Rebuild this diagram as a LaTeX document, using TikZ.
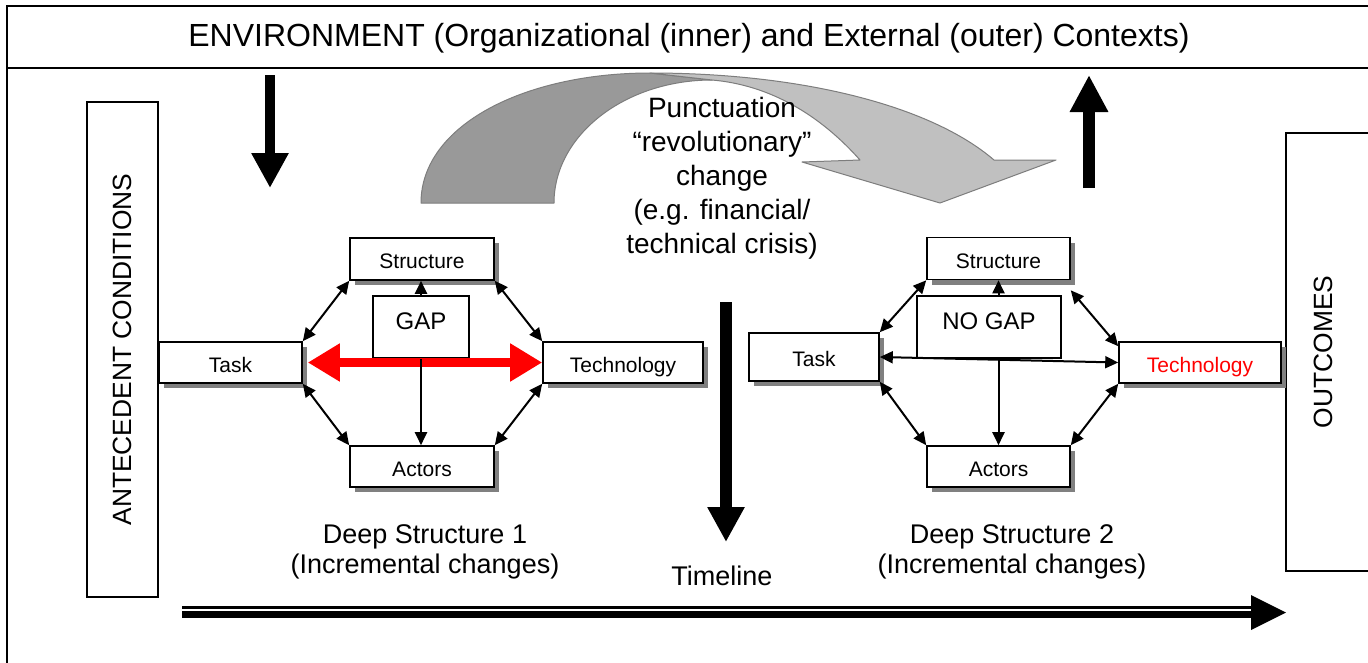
\documentclass[tikz,border=0pt]{standalone}
\usepackage{fontspec}
\setmainfont{Liberation Sans}
\usetikzlibrary{arrows.meta,shadows,calc}
\definecolor{darkband}{RGB}{153,153,153}
\definecolor{lightband}{RGB}{192,192,192}
\definecolor{bandline}{RGB}{125,125,125}
\begin{document}
\begin{tikzpicture}[x=1pt,y=-1pt,
  box/.style={draw=black, line width=1.6pt, fill=white, inner sep=0pt, font=\fontsize{21}{25}\selectfont, text height=19pt, text depth=0pt},
  sbox/.style={box, drop shadow={shadow xshift=5pt, shadow yshift=-5pt, fill=black!50, opacity=1}},
  gapbox/.style={box, font=\fontsize{24}{28}\selectfont, text height=17pt, text depth=13pt},
  bigbox/.style={draw=black, line width=1.6pt, inner sep=0pt, rotate=90, font=\fontsize{26.4}{30}\selectfont},
  arr/.style={line width=2pt, -{Triangle[length=13pt,width=12pt]}},
  darr/.style={line width=2pt, {Triangle[length=13pt,width=12pt]}-{Triangle[length=13pt,width=12pt]}},
  band/.style={draw=bandline, line width=1pt, line join=round},
  lbl/.style={align=center, font=\fontsize{27}{30}\selectfont},
]
\clip (0,0) rectangle (1368,662);
\fill[white] (0,0) rectangle (1368,662);

% outer frame
\draw[line width=2pt] (7,700) -- (7,6) -- (1400,6);
\draw[line width=2pt] (7,68) -- (1400,68);
\node[font=\fontsize{32}{37}\selectfont] (env) at (689,38) {ENVIRONMENT (Organizational (inner) and External (outer) Contexts)};

% side boxes
\node[bigbox, minimum width=495pt, minimum height=71pt] (ante) at (122.5,349.5) {ANTECEDENT CONDITIONS};
\node[bigbox, minimum width=438pt, minimum height=84pt, text depth=10pt] (outc) at (1328,352) {OUTCOMES};

% environment arrows
\coordinate (envA) at (270,75);
\coordinate (envB) at (270,188);
\draw[line width=10pt, -{Triangle[length=35pt,width=35pt]}] (envA) -- (envB);
\coordinate (outA) at (1089,188);
\coordinate (outB) at (1089,75);
\draw[line width=12pt, -{Triangle[length=37pt,width=36pt]}] (outA) -- (outB);

% curved punctuation arrow
\path[band, fill=darkband] (421,203) .. controls (421,125) and (525,73) .. (650,73)
  -- (712,80) .. controls (625,80) and (554,135) .. (554,203) -- cycle;
\path[band, fill=lightband] (650,73) .. controls (800,73) and (930,105) .. (994,160)
  -- (1056,160) -- (940,203) -- (802,162) -- (860,160)
  .. controls (820,115) and (770,85) .. (712,80) -- cycle;
\node[align=center, font=\fontsize{28}{34}\selectfont] (punct) at (722,178)
  {Punctuation\\“revolutionary”\\change\\(e.g. financial/\\technical crisis)};

% timeline (vertical)
\coordinate (tlA) at (726,302);
\coordinate (tlB) at (726,542);
\draw[line width=12pt, -{Triangle[length=35pt,width=35pt]}] (tlA) -- (tlB);
\node[lbl] (tl) at (722,576) {Timeline};

% deep structure 1
\node[sbox, minimum width=144pt, minimum height=42pt] (s1) at (422,259) {Structure};
\node[gapbox, minimum width=96pt, minimum height=62pt] (g1) at (421,327) {GAP};
\node[sbox, minimum width=143pt, minimum height=41pt] (t1) at (230.5,362.5) {Task};
\node[sbox, minimum width=160pt, minimum height=41pt] (te1) at (623,362.5) {Technology};
\node[sbox, minimum width=144pt, minimum height=41pt] (a1) at (422,466.5) {Actors};

\draw[line width=9pt, red, {Triangle[length=32pt,width=36pt]}-{Triangle[length=32pt,width=36pt]}]
  ([xshift=5pt]t1.east) -- (te1.west);
\draw[arr] (g1.north) -- (g1.north |- s1.south);
\draw[arr] (g1.south) -- (g1.south |- a1.north);
\draw[darr] (t1.north east) -- (s1.south west);
\draw[darr] (s1.south east) -- (te1.north west);
\draw[darr] (t1.south east) -- (a1.north west);
\draw[darr] (a1.north east) -- (te1.south west);
\node[lbl] (ds1) at (425,552) {Deep Structure 1\\(Incremental changes)};

% deep structure 2
\node[sbox, minimum width=143pt, minimum height=42pt] (s2) at (998.5,258.5) {Structure};
\node[gapbox, minimum width=144pt, minimum height=62pt] (g2) at (989,327) {NO GAP};
\node[sbox, minimum width=130pt, minimum height=48pt] (t2) at (814,357) {Task};
\node[sbox, minimum width=162pt, minimum height=41pt, text=red] (te2) at (1200,362.5) {Technology};
\node[sbox, minimum width=143pt, minimum height=41pt] (a2) at (998.5,466.5) {Actors};

\draw[arr] (g2.north -| s2.south) -- (s2.south);
\draw[arr] (g2.south -| a2.north) -- (a2.north);
\draw[darr] (t2.east) -- (te2.west);
\draw[darr] (t2.north east) -- (s2.south west);
\draw[darr] ([yshift=-10pt]s2.south east) -- ([yshift=-5pt]te2.north west);
\draw[darr] (t2.south east) -- (a2.north west);
\draw[darr] (te2.south west) -- (a2.north east);
\node[lbl] (ds2) at (1012,552) {Deep Structure 2\\(Incremental changes)};

% horizontal timeline arrow
\coordinate (hA1) at (182,607.5);
\coordinate (hB1) at (1252,607.5);
\coordinate (hA2) at (182,614.5);
\coordinate (hB2) at (1252,614.5);
\coordinate (hTop) at (1251,595);
\coordinate (hTip) at (1286,612.5);
\coordinate (hBot) at (1251,630);
\draw[line width=2.5pt] (hA1) -- (hB1);
\draw[line width=7pt] (hA2) -- (hB2);
\fill (hTop) -- (hTip) -- (hBot) -- cycle;
\end{tikzpicture}
\end{document}
